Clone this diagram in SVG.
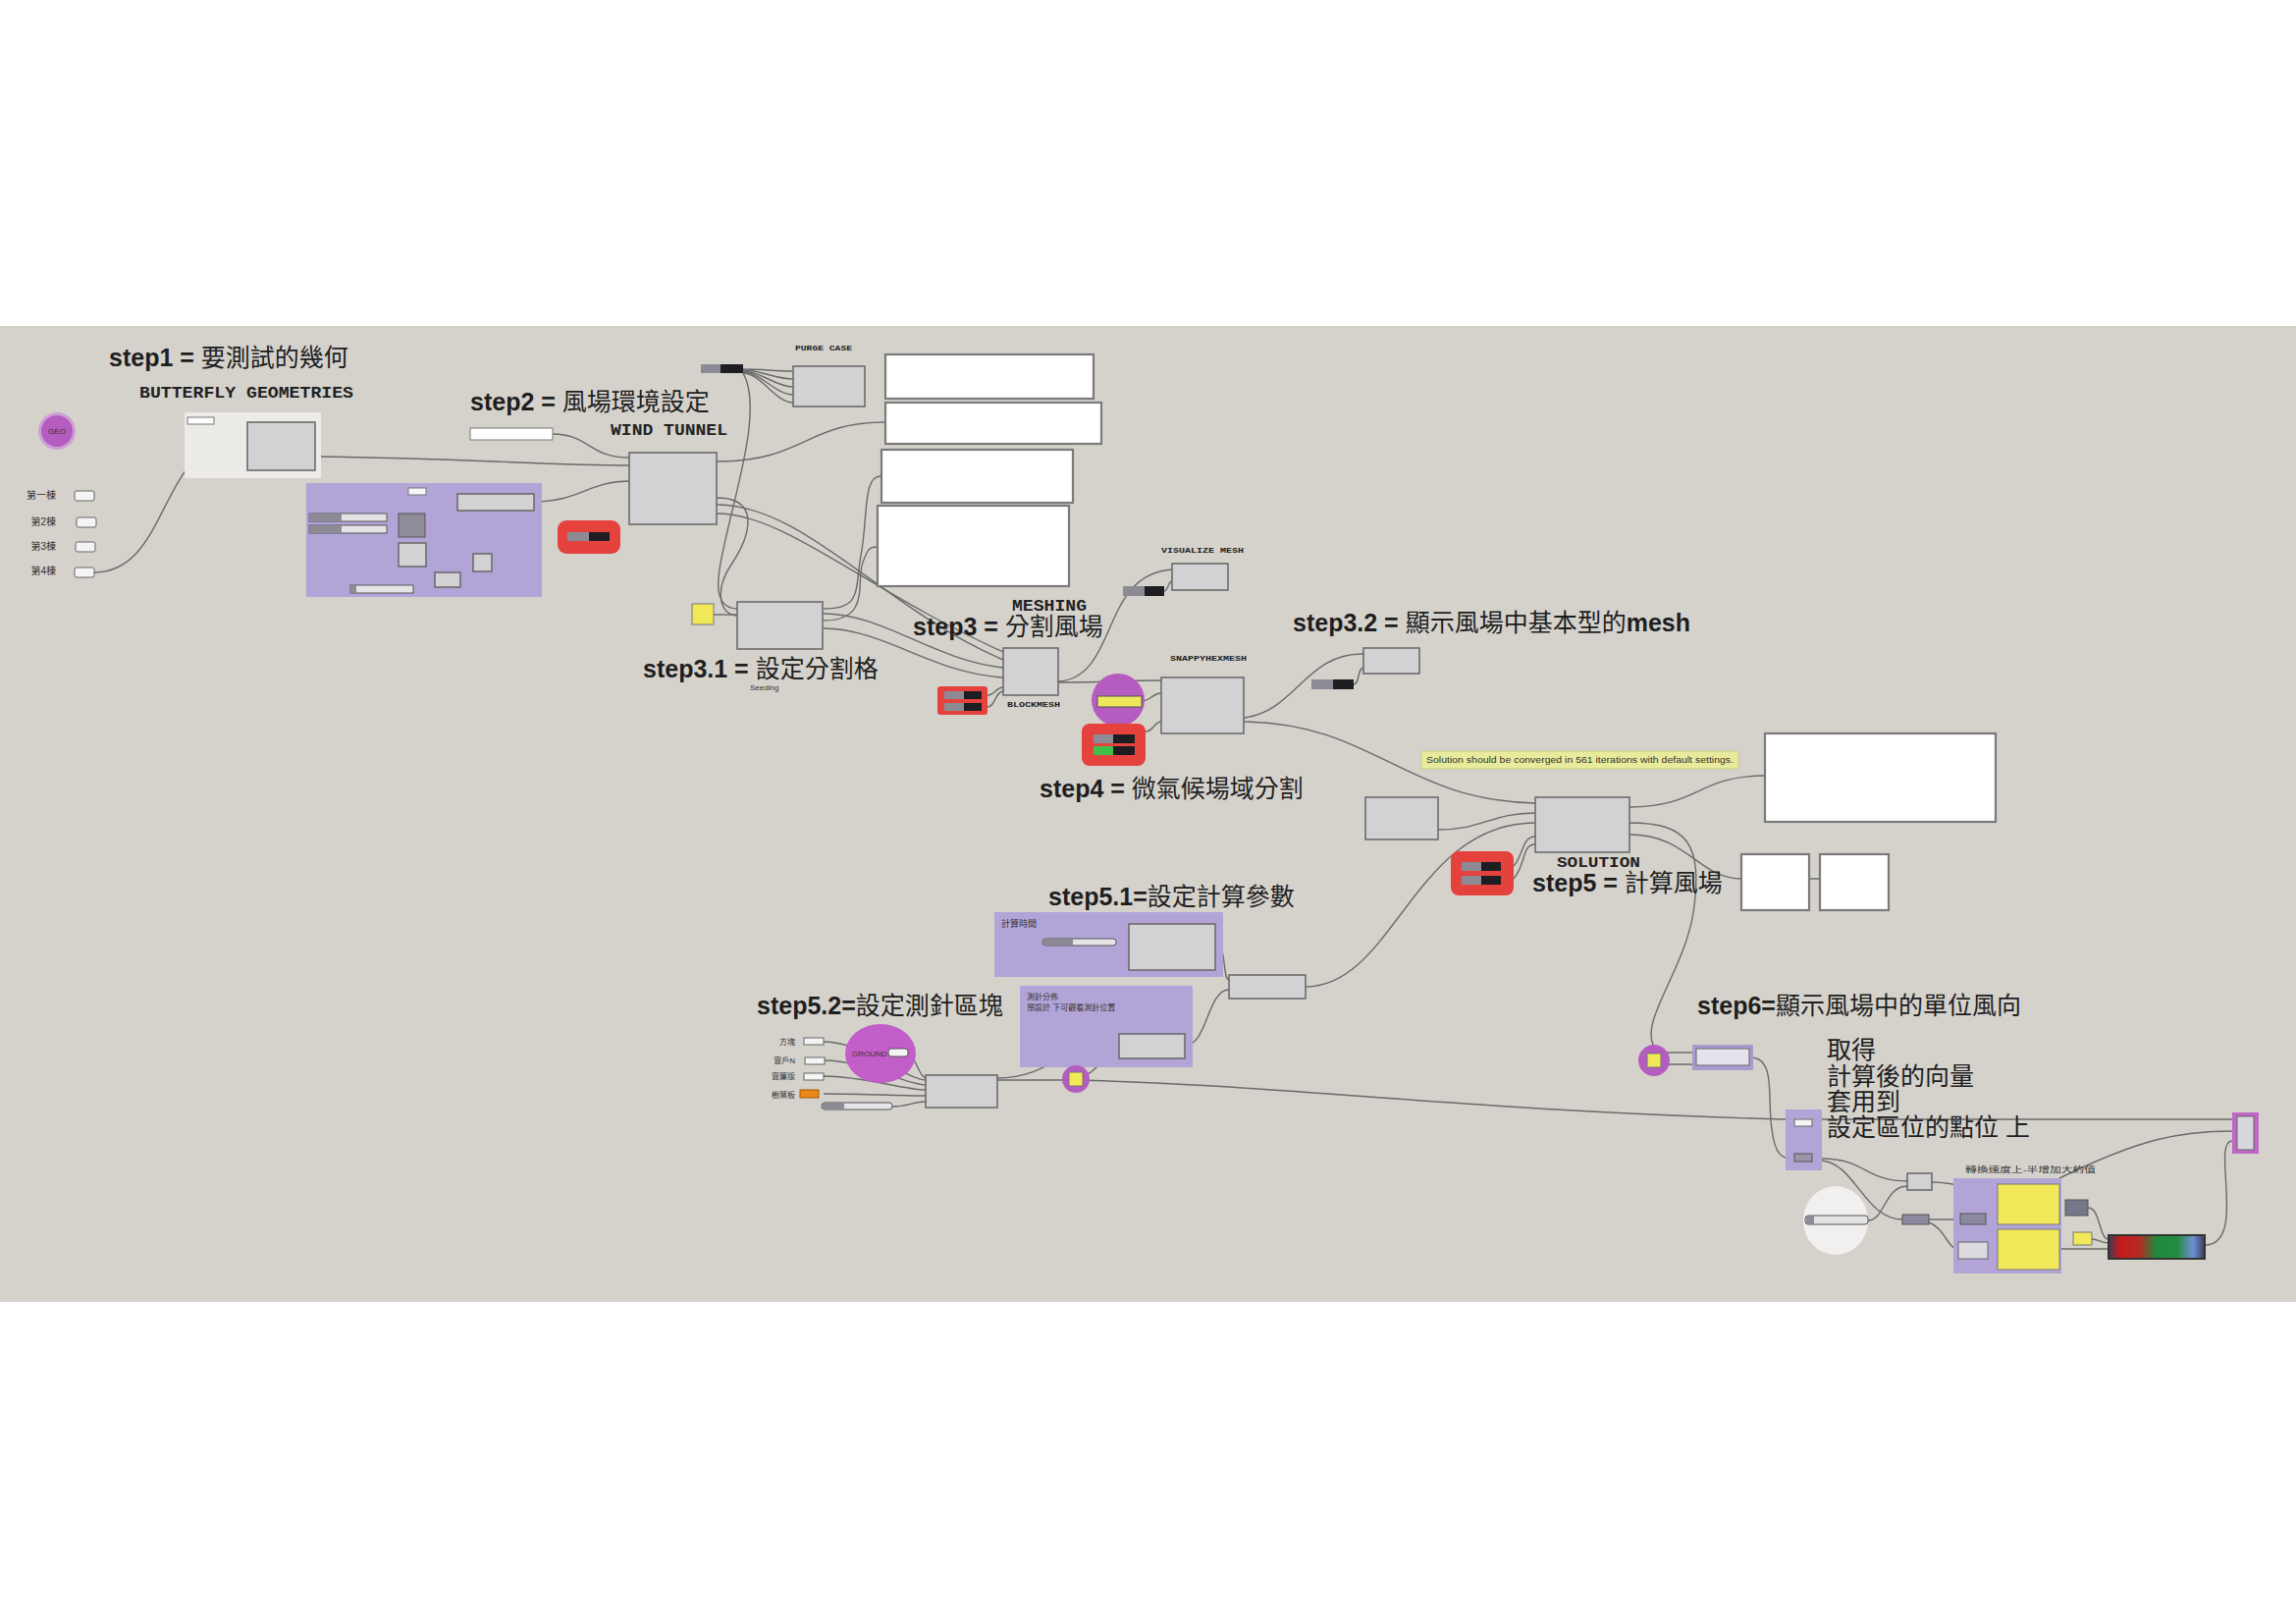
<svg xmlns="http://www.w3.org/2000/svg" width="2339" height="1654" viewBox="0 0 2339 1654">
<defs>
<style>
.bg{fill:#d5d2cc}
.comp{fill:#d2d2d4;stroke:#6c6c6c;stroke-width:1.6}
.panel{fill:#ffffff;stroke:#7a7a7a;stroke-width:2.2}
.wire{fill:none;stroke:#6a6a6a;stroke-width:1.4}
.grp{fill:#b3a4d8}
.red{fill:#e5423e}
.sl{fill:#e4e4e6;stroke:#555;stroke-width:1}
.slL{fill:#8c8b95}
.slD{fill:#1e1e22}
.inp{fill:#f4f4f4;stroke:#666;stroke-width:1}
.step{font-family:"Liberation Sans","Noto Sans CJK TC",sans-serif;font-size:25px;fill:#1e1e1e}
.b{font-weight:bold}
.mono{font-family:"Liberation Mono",monospace;font-weight:bold;fill:#222}
.tiny{font-family:"Liberation Sans","Noto Sans CJK TC",sans-serif;fill:#333}
.yel{fill:#f1e95a;stroke:#777;stroke-width:1}
.mag{fill:#b45cc0}
</style>
<linearGradient id="grad" x1="0" y1="0" x2="1" y2="0">
<stop offset="0" stop-color="#3c3c5a"/>
<stop offset="0.12" stop-color="#c41a1a"/>
<stop offset="0.32" stop-color="#b52a24"/>
<stop offset="0.5" stop-color="#1f8a3c"/>
<stop offset="0.72" stop-color="#268c44"/>
<stop offset="0.88" stop-color="#6f8fd8"/>
<stop offset="1" stop-color="#3c3c5a"/>
</linearGradient>
</defs>
<rect x="0" y="0" width="2339" height="1654" fill="#ffffff"/>
<rect class="bg" x="0" y="332" width="2339" height="994"/>

<g id="connectors">
<path class="wire" d="M96,583 C175,583 160,445 252,444"/>
<path class="wire" d="M218,428 C235,428 235,437 252,437"/>
<path class="wire" d="M321,465 C480,467 560,474 641,474"/>
<path class="wire" d="M563,442 C600,442 600,466 641,466"/>
<path class="wire" d="M544,511 C590,511 600,490 641,490"/>
<path class="wire" d="M434,500 C450,500 450,508 466,508"/>
<path class="wire" d="M394,526 C400,526 400,530 406,530"/>
<path class="wire" d="M394,539 C400,539 400,540 406,540"/>
<path class="wire" d="M433,530 C445,540 440,570 434,575"/>
<path class="wire" d="M434,565 C450,568 470,572 482,572"/>
<path class="wire" d="M421,600 C430,598 435,592 443,590"/>
<path class="wire" d="M469,588 C475,585 478,578 482,575"/>
<path class="wire" d="M730,470 C820,470 820,430 902,430"/>
<path class="wire" d="M757,376 C775,376 790,378 808,378"/>
<path class="wire" d="M757,377 C775,377 790,386 808,386"/>
<path class="wire" d="M757,378 C775,378 790,394 808,394"/>
<path class="wire" d="M757,379 C775,379 790,402 808,402"/>
<path class="wire" d="M757,380 C775,380 790,410 808,410"/>
<path class="wire" d="M757,380 C780,420 742,520 733,580 C728,612 738,620 752,620"/>
<path class="wire" d="M730,507 C775,507 765,545 745,575 C728,600 732,627 752,627"/>
<path class="wire" d="M730,523 C800,523 880,600 1022,664"/>
<path class="wire" d="M730,514 C820,514 900,620 1022,672"/>
<path class="wire" d="M839,625 C900,625 950,672 1022,680"/>
<path class="wire" d="M839,640 C900,640 950,686 1022,690"/>
<path class="wire" d="M839,620 C880,620 870,600 878,560 C884,520 880,485 897,485"/>
<path class="wire" d="M839,632 C890,632 870,590 880,570 C884,560 885,557 894,557"/>
<path class="wire" d="M727,626 L752,626"/>
<path class="wire" d="M1006,708 C1014,708 1014,700 1022,700"/>
<path class="wire" d="M1006,720 C1014,720 1014,704 1022,704"/>
<path class="wire" d="M1078,695 C1130,695 1140,693 1183,693"/>
<path class="wire" d="M1078,694 C1140,690 1120,585 1194,580"/>
<path class="wire" d="M1186,602 C1190,602 1190,592 1194,592"/>
<path class="wire" d="M1163,714 C1172,714 1174,706 1183,706"/>
<path class="wire" d="M1167,745 C1175,745 1176,735 1183,735"/>
<path class="wire" d="M1267,731 C1320,725 1330,665 1389,666"/>
<path class="wire" d="M1379,697 C1385,697 1383,680 1389,680"/>
<path class="wire" d="M1267,735 C1400,737 1430,815 1564,818"/>
<path class="wire" d="M1465,845 C1510,845 1520,828 1564,828"/>
<path class="wire" d="M1330,1005 C1420,1005 1440,838 1564,838"/>
<path class="wire" d="M1542,882 C1552,872 1550,852 1564,852"/>
<path class="wire" d="M1542,895 C1555,880 1550,860 1564,860"/>
<path class="wire" d="M1660,822 C1730,822 1730,790 1798,790"/>
<path class="wire" d="M1660,850 C1720,850 1730,895 1774,895 L1854,895"/>
<path class="wire" d="M1660,838 C1720,838 1735,860 1725,930 C1715,990 1670,1040 1685,1066"/>
<path class="wire" d="M1137,960 C1143,960 1144,952 1150,952"/>
<path class="wire" d="M1238,960 C1250,960 1245,998 1252,998"/>
<path class="wire" d="M1207,1065 C1230,1065 1230,1008 1252,1008"/>
<path class="wire" d="M839,1061 C880,1061 920,1098 943,1100"/>
<path class="wire" d="M839,1080 C880,1080 920,1104 943,1105"/>
<path class="wire" d="M839,1096 C880,1096 920,1110 943,1110"/>
<path class="wire" d="M839,1114 C880,1114 920,1116 943,1116"/>
<path class="wire" d="M925,1072 C935,1080 935,1095 943,1098"/>
<path class="wire" d="M909,1127 C925,1127 930,1122 943,1122"/>
<path class="wire" d="M1016,1100 L1090,1100 C1300,1104 1500,1132 1820,1140 L2274,1140"/>
<path class="wire" d="M1016,1098 C1070,1098 1090,1060 1140,1058"/>
<path class="wire" d="M1104,1096 C1120,1090 1125,1072 1140,1070"/>
<path class="wire" d="M1693,1072 L1727,1072"/>
<path class="wire" d="M1693,1084 L1727,1084"/>
<path class="wire" d="M1783,1077 C1810,1077 1800,1120 1805,1150 C1808,1175 1815,1180 1825,1180"/>
<path class="wire" d="M1856,1180 C1900,1180 1900,1203 1943,1203"/>
<path class="wire" d="M1856,1182 C1890,1185 1900,1242 1938,1242"/>
<path class="wire" d="M1903,1243 C1920,1243 1920,1208 1943,1208"/>
<path class="wire" d="M1968,1204 C2000,1204 2010,1215 2035,1215"/>
<path class="wire" d="M1965,1242 L1997,1242"/>
<path class="wire" d="M2023,1242 C2028,1242 2030,1230 2035,1230"/>
<path class="wire" d="M2025,1273 L2035,1273"/>
<path class="wire" d="M1965,1245 C1980,1250 1985,1272 1995,1273"/>
<path class="wire" d="M2098,1272 L2148,1272"/>
<path class="wire" d="M2127,1230 C2140,1230 2138,1262 2148,1262"/>
<path class="wire" d="M2131,1262 C2138,1262 2140,1266 2148,1266"/>
<path class="wire" d="M2098,1200 C2180,1160 2220,1152 2274,1152"/>
<path class="wire" d="M2246,1268 C2290,1268 2252,1162 2274,1162"/>
</g>

<g id="step1">
<text class="step" x="111" y="373"><tspan class="b">step1 = </tspan>要測試的幾何</text>
<text class="mono" x="142" y="405" font-size="17" textLength="218" lengthAdjust="spacingAndGlyphs">BUTTERFLY GEOMETRIES</text>
</g>
<g id="geo">
<circle cx="58" cy="439" r="19" fill="#cf9ed6"/>
<circle class="mag" cx="58" cy="439" r="16"/>
<text class="tiny" x="58" y="442" font-size="8" text-anchor="middle" fill="#4a1a55">GEO</text>
</g>
<g id="building-list">
<text class="tiny" x="57" y="508" font-size="10" text-anchor="end">第一棟</text>
<text class="tiny" x="57" y="535" font-size="10" text-anchor="end">第2棟</text>
<text class="tiny" x="57" y="560" font-size="10" text-anchor="end">第3棟</text>
<text class="tiny" x="57" y="585" font-size="10" text-anchor="end">第4棟</text>
<rect class="inp" x="76" y="500" width="20" height="10" rx="2"/>
<rect class="inp" x="78" y="527" width="20" height="10" rx="2"/>
<rect class="inp" x="77" y="552" width="20" height="10" rx="2"/>
<rect class="inp" x="76" y="578" width="20" height="10" rx="2"/>
</g>
<g id="butterfly-geometries">
<rect x="188" y="420" width="139" height="67" fill="#ecebe7"/>
<rect x="191" y="425" width="27" height="7" fill="#ffffff" stroke="#777" stroke-width="1"/>
<rect class="comp" x="252" y="430" width="69" height="49"/>
</g>

<g id="step2-group">
<rect class="grp" x="312" y="492" width="240" height="116"/>
<rect x="416" y="497" width="18" height="7" fill="#f6f6f6" stroke="#777" stroke-width="1"/>
<rect class="comp" x="466" y="503" width="78" height="17"/>
<rect class="sl" x="315" y="523" width="79" height="8"/>
<rect class="slL" x="315" y="523" width="33" height="8"/>
<rect class="sl" x="315" y="535" width="79" height="8"/>
<rect class="slL" x="315" y="535" width="33" height="8"/>
<rect x="406" y="523" width="27" height="24" fill="#8f8c9a" stroke="#555" stroke-width="1"/>
<rect class="comp" x="406" y="553" width="28" height="24"/>
<rect class="comp" x="482" y="564" width="19" height="18"/>
<rect class="comp" x="443" y="583" width="26" height="15"/>
<rect class="sl" x="357" y="596" width="64" height="8"/>
<rect class="slL" x="357" y="596" width="6" height="8"/>
</g>
<g id="step2">
<text class="step" x="479" y="418"><tspan class="b">step2 = </tspan>風場環境設定</text>
<rect x="479" y="436" width="84" height="12" fill="#ffffff" stroke="#777" stroke-width="1"/>
</g>
<g id="wind-tunnel">
<text class="mono" x="622" y="443" font-size="17" textLength="119" lengthAdjust="spacingAndGlyphs">WIND TUNNEL</text>
<rect class="comp" x="641" y="461" width="89" height="73"/>
</g>
<g id="wt-toggle">
<rect class="red" x="568" y="530" width="64" height="34" rx="9"/>
<rect class="slD" x="578" y="542" width="43" height="9"/>
<rect class="slL" x="578" y="542" width="22" height="9"/>
</g>
<g id="purge-case">
<rect class="slD" x="714" y="371" width="43" height="9"/>
<rect class="slL" x="714" y="371" width="20" height="9"/>
<text class="mono" x="810" y="357" font-size="8" textLength="58" lengthAdjust="spacingAndGlyphs">PURGE CASE</text>
<rect class="comp" x="808" y="373" width="73" height="41"/>
</g>
<g id="panels-top">
<rect class="panel" x="902" y="361" width="212" height="45"/>
<rect class="panel" x="902" y="410" width="220" height="42"/>
<rect class="panel" x="898" y="458" width="195" height="54"/>
<rect class="panel" x="894" y="515" width="195" height="82"/>
</g>
<g id="step3-1">
<rect class="yel" x="705" y="615" width="22" height="21"/>
<rect class="comp" x="751" y="613" width="87" height="48"/>
<text class="step" x="655" y="690"><tspan class="b">step3.1 = </tspan>設定分割格</text>
<text class="tiny" x="764" y="703" font-size="8">Seeding</text>
</g>
<g id="meshing">
<text class="mono" x="1031" y="622" font-size="17" textLength="76" lengthAdjust="spacingAndGlyphs">MESHING</text>
<text class="step" x="930" y="647"><tspan class="b">step3 = </tspan>分割風場</text>
<rect class="comp" x="1022" y="660" width="56" height="48"/>
<text class="mono" x="1026" y="720" font-size="8" textLength="54" lengthAdjust="spacingAndGlyphs">BLOCKMESH</text>
<rect class="red" x="955" y="699" width="51" height="29" rx="3"/>
<rect class="slD" x="962" y="704" width="38" height="8"/>
<rect class="slL" x="962" y="704" width="20" height="8"/>
<rect class="slD" x="962" y="716" width="38" height="8"/>
<rect class="slL" x="962" y="716" width="20" height="8"/>
</g>
<g id="visualize-mesh">
<text class="mono" x="1183" y="563" font-size="8" textLength="84" lengthAdjust="spacingAndGlyphs">VISUALIZE MESH</text>
<rect class="comp" x="1194" y="574" width="57" height="27"/>
<rect class="slD" x="1144" y="597" width="42" height="10"/>
<rect class="slL" x="1144" y="597" width="22" height="10"/>
</g>
<g id="snappyhexmesh">
<text class="mono" x="1192" y="673" font-size="8" textLength="78" lengthAdjust="spacingAndGlyphs">SNAPPYHEXMESH</text>
<rect class="comp" x="1183" y="690" width="84" height="57"/>
<circle class="mag" cx="1139" cy="713" r="27"/>
<rect x="1118" y="709" width="45" height="11" fill="#ece85a" stroke="#555" stroke-width="1"/>
<rect class="red" x="1102" y="737" width="65" height="43" rx="8"/>
<rect class="slD" x="1114" y="748" width="42" height="9"/>
<rect class="slL" x="1114" y="748" width="20" height="9"/>
<rect class="slD" x="1114" y="760" width="42" height="9"/>
<rect x="1114" y="760" width="20" height="9" fill="#3fc04a"/>
<text class="step" x="1059" y="812"><tspan class="b">step4 = </tspan>微氣候場域分割</text>
</g>
<g id="step3-2">
<text class="step" x="1317" y="643"><tspan class="b">step3.2 = </tspan>顯示風場中基本型的<tspan class="b">mesh</tspan></text>
<rect class="comp" x="1389" y="660" width="57" height="26"/>
<rect class="slD" x="1336" y="692" width="43" height="10"/>
<rect class="slL" x="1336" y="692" width="22" height="10"/>
</g>
<g id="solution">
<rect x="1448" y="765" width="323" height="18" fill="#e8eb9c" stroke="#c9cc86" stroke-width="1"/>
<text class="tiny" x="1453" y="777" font-size="8.5" textLength="313" lengthAdjust="spacingAndGlyphs">Solution should be converged in 561 iterations with default settings.</text>
<rect class="comp" x="1391" y="812" width="74" height="43"/>
<rect class="comp" x="1564" y="812" width="96" height="56"/>
<text class="mono" x="1586" y="883" font-size="14" textLength="85" lengthAdjust="spacingAndGlyphs">SOLUTION</text>
<text class="step" x="1561" y="908"><tspan class="b">step5 = </tspan>計算風場</text>
<rect class="red" x="1478" y="867" width="64" height="45" rx="8"/>
<rect class="slD" x="1489" y="878" width="40" height="9"/>
<rect class="slL" x="1489" y="878" width="20" height="9"/>
<rect class="slD" x="1489" y="892" width="40" height="9"/>
<rect class="slL" x="1489" y="892" width="20" height="9"/>
</g>
<g id="solution-panels">
<rect class="panel" x="1798" y="747" width="235" height="90"/>
<rect class="panel" x="1774" y="870" width="69" height="57"/>
<rect class="panel" x="1854" y="870" width="70" height="57"/>
</g>
<g id="step5-1">
<text class="step" x="1068" y="922"><tspan class="b">step5.1=</tspan>設定計算參數</text>
<rect class="grp" x="1013" y="929" width="233" height="66"/>
<text class="tiny" x="1020" y="944" font-size="9" fill="#3a2a6a">計算時間</text>
<rect class="sl" x="1062" y="956" width="75" height="7" rx="3"/>
<rect class="slL" x="1063" y="956" width="30" height="7"/>
<rect class="comp" x="1150" y="941" width="88" height="47"/>
<rect class="comp" x="1252" y="993" width="78" height="24"/>
</g>
<g id="step5-2">
<text class="step" x="771" y="1033"><tspan class="b">step5.2=</tspan>設定測針區塊</text>
<rect class="grp" x="1039" y="1004" width="176" height="83"/>
<text class="tiny" x="1046" y="1018" font-size="8" fill="#3a2a6a">測針分佈</text>
<text class="tiny" x="1046" y="1029" font-size="8" fill="#3a2a6a">預設於 下可觀看測針位置</text>
<rect class="comp" x="1140" y="1053" width="67" height="25"/>
<ellipse cx="897" cy="1073" rx="36" ry="30" fill="#c25ec8"/>
<text class="tiny" x="868" y="1076" font-size="8" fill="#4a1a55">GROUND</text>
<rect x="905" y="1068" width="20" height="8" rx="3" fill="#f4f4f4" stroke="#555" stroke-width="1"/>
<text class="tiny" x="810" y="1064" font-size="8" text-anchor="end">方塊</text>
<text class="tiny" x="810" y="1083" font-size="8" text-anchor="end">窗戶N</text>
<text class="tiny" x="810" y="1099" font-size="8" text-anchor="end">窗簾版</text>
<text class="tiny" x="810" y="1118" font-size="8" text-anchor="end">樹葉板</text>
<rect class="inp" x="819" y="1057" width="20" height="7"/>
<rect class="inp" x="820" y="1077" width="20" height="7"/>
<rect class="inp" x="819" y="1093" width="20" height="7"/>
<rect x="815" y="1110" width="19" height="8" fill="#e8891a" stroke="#aa5500" stroke-width="1"/>
<rect class="sl" x="837" y="1123" width="72" height="7" rx="3"/>
<rect class="slL" x="838" y="1123" width="22" height="7"/>
<rect class="comp" x="943" y="1095" width="73" height="33"/>
<circle class="mag" cx="1096" cy="1099" r="14"/>
<rect class="yel" x="1089" y="1092" width="14" height="14"/>
</g>
<g id="step6">
<text class="step" x="1729" y="1033"><tspan class="b">step6=</tspan>顯示風場中的單位風向</text>
<circle class="mag" cx="1685" cy="1080" r="16"/>
<rect class="yel" x="1678" y="1073" width="14" height="14"/>
<rect x="1724" y="1064" width="62" height="26" fill="#a99bd0"/>
<rect x="1728" y="1068" width="54" height="17" fill="#e4e2ea" stroke="#666" stroke-width="1"/>
<text class="step" x="1861" y="1078" font-size="26">取得</text>
<text class="step" x="1861" y="1105" font-size="26">計算後的向量</text>
<text class="step" x="1861" y="1131" font-size="26">套用到</text>
<text class="step" x="1861" y="1157" font-size="26">設定區位的點位 上</text>
<rect class="grp" x="1819" y="1130" width="37" height="62"/>
<rect class="inp" x="1828" y="1140" width="18" height="7"/>
<rect x="1828" y="1175" width="18" height="8" fill="#9a96a8" stroke="#555" stroke-width="1"/>
<rect x="2274" y="1133" width="27" height="42" fill="#c068c8"/>
<rect x="2279" y="1137" width="17" height="34" fill="#d8d8dc" stroke="#666" stroke-width="1"/>
<rect class="comp" x="1943" y="1195" width="25" height="17"/>
<ellipse cx="1870" cy="1243" rx="33" ry="35" fill="#f1f0ee"/>
<rect class="sl" x="1839" y="1238" width="64" height="9" rx="3"/>
<rect class="slL" x="1840" y="1238" width="8" height="9"/>
<rect x="1938" y="1237" width="27" height="10" fill="#8c8aa0" stroke="#555" stroke-width="1"/>
<text class="tiny" x="2002" y="1194" font-size="8" textLength="133" lengthAdjust="spacingAndGlyphs">轉換速度上-半增加大約值</text>
<rect class="grp" x="1990" y="1200" width="110" height="97"/>
<rect x="1997" y="1236" width="26" height="11" fill="#8c8aa0" stroke="#555" stroke-width="1"/>
<rect x="1995" y="1265" width="30" height="17" fill="#dcdbe2" stroke="#666" stroke-width="1"/>
<rect class="yel" x="2035" y="1206" width="63" height="41"/>
<rect class="yel" x="2035" y="1252" width="63" height="41"/>
<rect x="2104" y="1222" width="23" height="16" fill="#77778a" stroke="#555" stroke-width="1"/>
<rect class="yel" x="2112" y="1255" width="19" height="13"/>
<rect x="2148" y="1258" width="98" height="24" fill="url(#grad)" stroke="#333" stroke-width="2"/>
</g>
</svg>
